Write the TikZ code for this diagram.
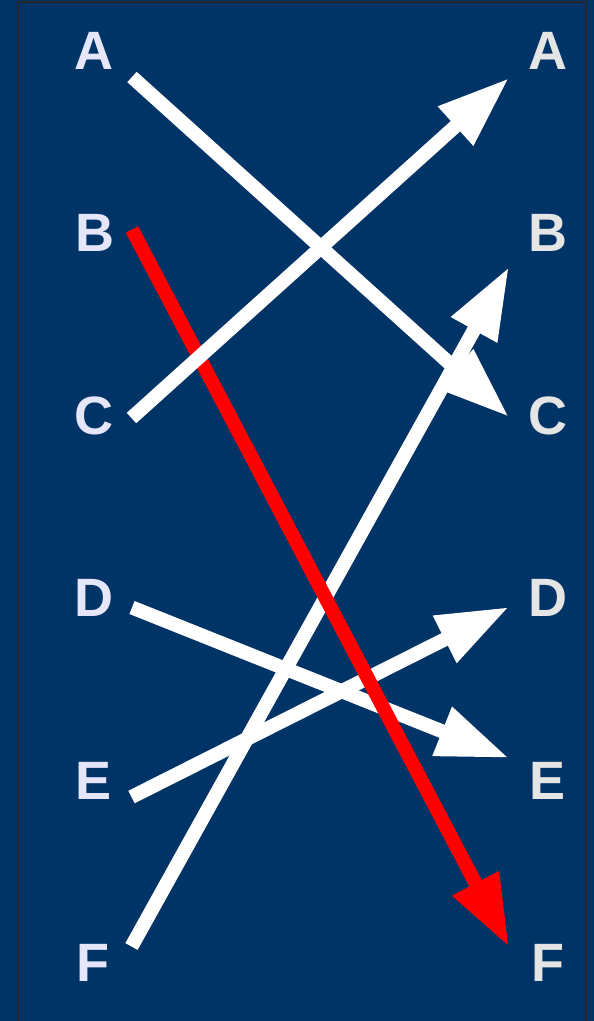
\documentclass[tikz,border=0pt]{standalone}
\usepackage{fontspec}
\setmainfont{Liberation Sans}
\usetikzlibrary{arrows.meta}
\definecolor{bg}{RGB}{0,51,102}
\definecolor{lavlab}{RGB}{230,230,250}
\definecolor{greylab}{RGB}{229,229,229}
\tikzset{
  lab/.style={font=\fontsize{54}{54}\selectfont\bfseries, inner sep=0pt, anchor=center},
  leftlab/.style={lab, text=lavlab},
  rightlab/.style={lab, text=greylab},
  conn/.style={line width=14pt, draw=white, -{Triangle[length=72pt,width=49pt]}},
  redconn/.style={conn, draw=red},
}
\begin{document}
\begin{tikzpicture}[x=1pt,y=-1pt]
\useasboundingbox (0,0) rectangle (594,1021);
\fill[bg] (0,0) rectangle (594,1021);
\draw[black!85, line width=1.2pt] (18,1021) -- (18,2) -- (586,2) -- (586,1021);
% labels
\node[leftlab] (lA) at (94,51) {A};
\node[leftlab] (lB) at (95,233) {B};
\node[leftlab] (lC) at (94,416) {C};
\node[leftlab] (lD) at (94,598) {D};
\node[leftlab] (lE) at (94,781) {E};
\node[leftlab] (lF) at (93,963) {F};
\node[rightlab] (rA) at (548,51) {A};
\node[rightlab] (rB) at (548,233) {B};
\node[rightlab] (rC) at (548,416) {C};
\node[rightlab] (rD) at (548,598) {D};
\node[rightlab] (rE) at (548,781) {E};
\node[rightlab] (rF) at (548,963) {F};
% connector end points
\coordinate (sA) at (132,77);
\coordinate (sB) at (132,229.5);
\coordinate (sC) at (131.5,418);
\coordinate (sD) at (132,607.5);
\coordinate (sE) at (131.5,797);
\coordinate (sF) at (131.5,946.5);
\coordinate (tA) at (509,78);
\coordinate (tB) at (509,267);
\coordinate (tC) at (509,417);
\coordinate (tD) at (509,607);
\coordinate (tE) at (509,758);
\coordinate (tF) at (509,947);
% connectors
\draw[conn] (sA) -- (tC);
\draw[conn] (sD) -- (tE);
\draw[conn] (sE) -- (tD);
\draw[conn] (sF) -- (tB);
\draw[redconn] (sB) -- (tF);
\draw[conn] (sC) -- (tA);
\end{tikzpicture}
\end{document}
